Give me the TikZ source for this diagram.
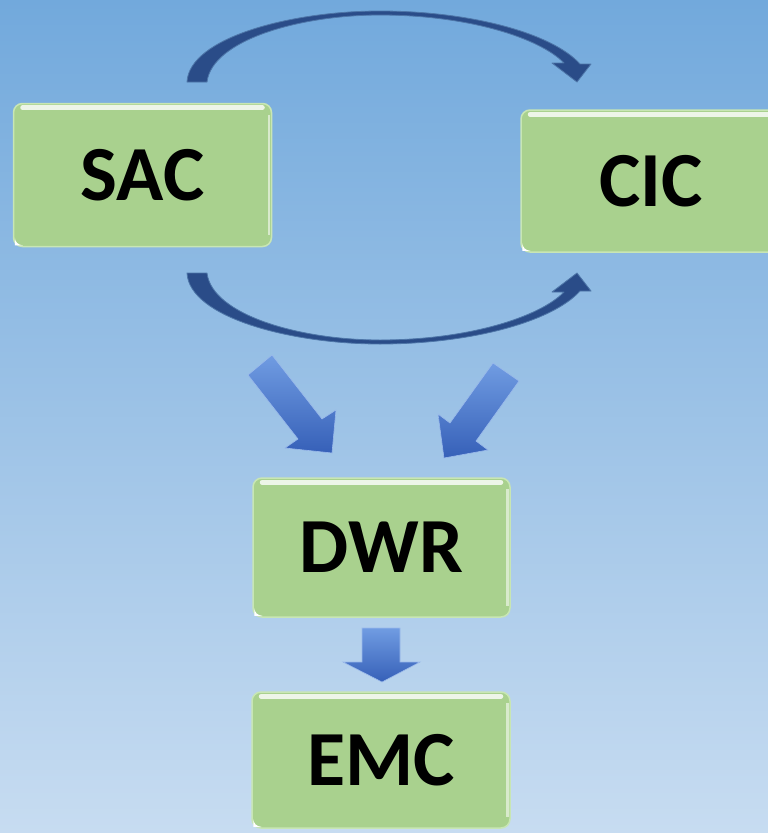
\documentclass[tikz,border=0pt]{standalone}
\usepackage{fontspec}
\setmainfont{Carlito}
\definecolor{bgtop}{RGB}{114,169,220}
\definecolor{bgbot}{RGB}{199,220,241}
\definecolor{boxfill}{RGB}{169,209,142}
\definecolor{boxedge}{RGB}{200,230,180}
\definecolor{arcfill}{RGB}{42,76,136}
\definecolor{arcedge}{RGB}{78,118,168}
\definecolor{blight}{RGB}{112,156,226}
\definecolor{bdark}{RGB}{54,96,184}
\begin{document}
\begin{tikzpicture}[x=1pt,y=-1pt,
  box/.style={rounded corners=9pt, fill=boxfill, draw=boxedge, line width=1.5pt,
    inner sep=0pt, font=\bfseries\fontsize{78}{78}\selectfont, text=black},
  gloss/.style={white, opacity=0.8, line width=5pt, line cap=round},
  arcarrow/.style={fill=arcfill, draw=arcedge, line width=0.8pt, line join=round},
  blockarrow/.style={top color=blight, bottom color=bdark, draw=blight!70!white, line width=0.6pt}]
\useasboundingbox (0,0) rectangle (768,833);
\clip (0,0) rectangle (768,833);
\shade[top color=bgtop, bottom color=bgbot] (0,0) rectangle (768,833);

% boxes
\node[box, minimum width=258pt, minimum height=143pt] (sac) at (142.5,175) {SAC};
\node[box, minimum width=260pt, minimum height=142pt] (cic) at (651,181) {CIC};
\node[box, minimum width=257pt, minimum height=139pt] (dwr) at (381.5,547.5) {DWR};
\node[box, minimum width=258pt, minimum height=136pt] (emc) at (381,760) {EMC};

\foreach \b in {sac,cic,dwr,emc}{
  \draw[gloss] ([xshift=10pt,yshift=-5pt]\b.north west) -- ([xshift=-10pt,yshift=-5pt]\b.north east);
  \draw[white, opacity=0.55, line width=2.5pt] ([xshift=-3.5pt,yshift=-12pt]\b.north east) -- ([xshift=-3.5pt,yshift=12pt]\b.south east);
  \fill[white] ([xshift=2pt,yshift=2pt]\b.south west) -- ++(8pt,0) arc[start angle=-90,end angle=-180,radius=8pt] -- cycle;
}

% curved arrows SAC -> CIC
\filldraw[arcarrow] (187,82) .. controls (189,38) and (290,11) .. (380,11)
  .. controls (470,11) and (552,33) .. (580,64) -- (591,64) -- (577,82) -- (552,63) -- (564,63)
  .. controls (540,38) and (468,15) .. (380,15)
  .. controls (300,15) and (212,40) .. (207,82) -- cycle;
\filldraw[arcarrow] (187,273) .. controls (189,317) and (290,344) .. (380,344)
  .. controls (470,344) and (552,322) .. (580,291) -- (591,291) -- (577,273) -- (552,292) -- (564,292)
  .. controls (540,317) and (468,340) .. (380,340)
  .. controls (300,340) and (212,315) .. (207,273) -- cycle;

% block arrows
\shade[blockarrow] (272,355) -- (322,419) -- (336,410) -- (332,453) -- (285,448) -- (298,439) -- (248,375) -- cycle;
\shade[blockarrow] (493,363) -- (519,381) -- (476,441) -- (488,450) -- (444,458) -- (438,414) -- (450,423) -- cycle;
\shade[blockarrow] (362,628) -- (400,628) -- (400,662) -- (420,662) -- (382,682) -- (343,662) -- (362,662) -- cycle;
\end{tikzpicture}
\end{document}
